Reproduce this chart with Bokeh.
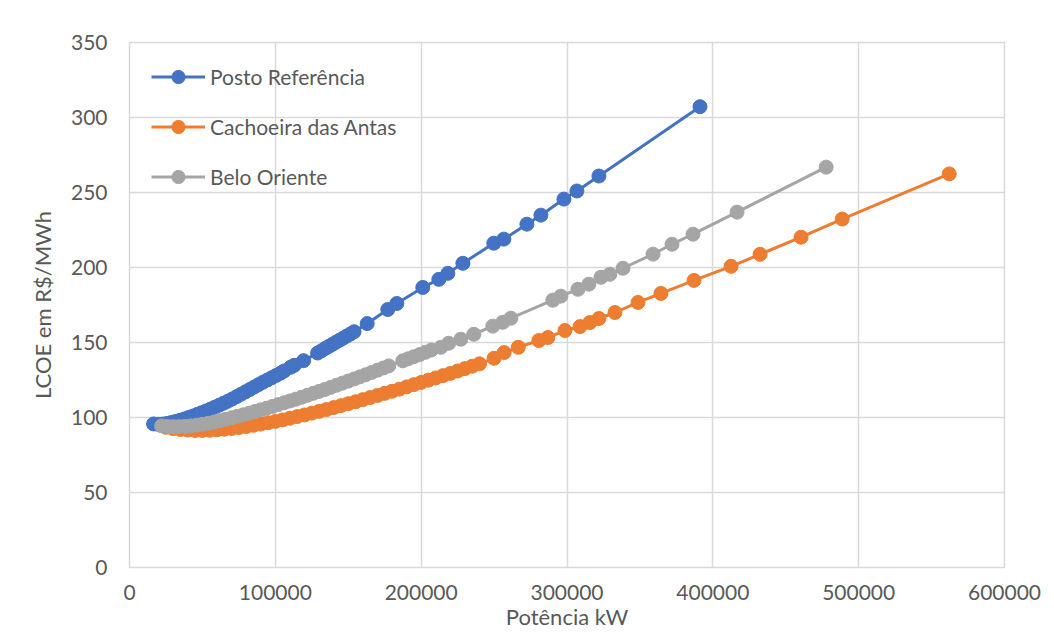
from bokeh.plotting import figure
from bokeh.models import (Range1d, FixedTicker, NumeralTickFormatter, Legend, LegendItem,
                          BoxAnnotation)
from bokeh.embed import file_html
from bokeh.resources import INLINE

# ---- data (Potência kW, LCOE R$/MWh) ----
posto_x = [16500, 19500, 22500, 25500, 28500, 31500, 34500, 37500, 40500, 43500,
           46500, 49500, 52500, 55500, 58500, 61500, 64500, 67500, 70500, 73500,
           76500, 79500, 82500, 85500, 88500, 91500, 94500, 97500, 100500, 103500,
           106000, 110500, 113000, 119400, 129000, 131500, 134000, 136500, 139000, 141500,
           144000, 146500, 149000, 151500, 154000, 163000, 177100, 183300, 201100, 212100,
           218300, 228600, 249800, 256700, 272500, 282100, 297900, 306800, 321900, 391200]
posto_y = [95.7, 95.5, 95.6, 96.0, 96.6, 97.3, 98.1, 99.0, 100.0, 101.0,
           102.1, 103.2, 104.4, 105.6, 106.9, 108.2, 109.5, 110.9, 112.4, 113.9,
           115.5, 117.1, 118.7, 120.3, 121.9, 123.5, 125.0, 126.5, 128.0, 129.5,
           131.0, 133.5, 134.8, 137.9, 143.0, 144.4, 145.9, 147.3, 148.7, 150.1,
           151.5, 152.9, 154.3, 155.7, 157.2, 162.6, 172.0, 176.0, 186.7, 192.1,
           196.1, 202.8, 216.2, 218.9, 228.9, 234.9, 245.6, 251.0, 261.0, 307.2]

cachoeira_x = [25000, 30000, 35000, 40000, 45000, 50000, 55000, 60000, 65000, 70000,
               75000, 80000, 85000, 90000, 95000, 100000, 105000, 110000, 115000, 120000,
               125000, 130000, 135000, 140000, 145000, 150000, 155000, 160000, 165000, 170000,
               175000, 180000, 185000, 190000, 195000, 200000, 205000, 210000, 215000, 220000,
               225000, 230000, 235000, 240000, 250000, 256900, 266600, 280700, 286900, 298600,
               308900, 315700, 321900, 332900, 348700, 364400, 387100, 412500, 432400, 460500,
               488700, 562100]
cachoeira_y = [93.5, 92.6, 92.0, 91.6, 91.4, 91.4, 91.5, 91.8, 92.2, 92.7,
               93.3, 94.0, 94.8, 95.6, 96.5, 97.4, 98.4, 99.5, 100.6, 101.7,
               102.9, 104.1, 105.3, 106.6, 107.9, 109.2, 110.5, 111.9, 113.3, 114.7,
               116.1, 117.5, 118.9, 120.4, 121.9, 123.4, 124.9, 126.4, 127.9, 129.4,
               131.0, 132.6, 134.2, 135.8, 139.5, 143.3, 146.8, 151.3, 153.3, 158.0,
               160.6, 163.3, 166.0, 170.0, 176.7, 182.7, 191.4, 200.8, 208.8, 220.2,
               232.3, 262.4]

belo_x = [22000, 26000, 30000, 34000, 38000, 42000, 46000, 50000, 54000, 58000,
          62000, 66000, 70000, 74000, 78000, 82000, 86000, 90000, 94000, 98000,
          102000, 106000, 110000, 114000, 118000, 122000, 126000, 130000, 134000, 138000,
          142000, 146000, 150000, 154000, 158000, 162000, 166000, 170000, 174000, 177800,
          187400, 191000, 195000, 199000, 203000, 207000, 213500, 218900, 227200, 236100,
          249100, 256000, 261500, 290300, 295800, 307500, 315000, 323300, 329400, 338400,
          359000, 372000, 386400, 416600, 477700]
belo_y = [94.4, 94.0, 93.9, 93.9, 94.1, 94.4, 94.9, 95.5, 96.2, 97.0,
          97.9, 98.8, 99.8, 100.8, 101.8, 102.9, 104.0, 105.1, 106.2, 107.4,
          108.6, 109.8, 111.0, 112.2, 113.5, 114.8, 116.1, 117.4, 118.7, 120.1,
          121.5, 122.9, 124.3, 125.7, 127.1, 128.5, 130.0, 131.5, 133.0, 134.4,
          137.8, 139.1, 140.5, 142.0, 143.5, 145.0, 146.8, 149.5, 152.2, 155.5,
          160.9, 163.5, 166.2, 178.2, 180.9, 185.5, 188.9, 193.5, 195.5, 199.5,
          208.9, 215.5, 222.2, 236.9, 266.9]

series_names = ["Posto Referência", "Cachoeira das Antas", "Belo Oriente"]
series_colors = ["#4472C4", "#ED7D31", "#A5A5A5"]
x_ticks = [0, 100000, 200000, 300000, 400000, 500000, 600000]
y_ticks = [0, 50, 100, 150, 200, 250, 300, 350]

FONT = "Lato"
TXT = "#595959"
GRID = "#D9D9D9"

p = figure(width=1054, height=636, output_backend="svg", toolbar_location=None,
           x_range=Range1d(0, 600000), y_range=Range1d(0, 350),
           min_border_left=129, min_border_right=50, min_border_top=42, min_border_bottom=69)
p.background_fill_color = "white"
p.border_fill_color = "white"
p.outline_line_color = GRID
p.outline_line_width = 1.5

p.xaxis.ticker = FixedTicker(ticks=x_ticks)
p.yaxis.ticker = FixedTicker(ticks=y_ticks)
p.xaxis.formatter = NumeralTickFormatter(format="0")
p.yaxis.formatter = NumeralTickFormatter(format="0")
for ax in (p.xaxis[0], p.yaxis[0]):
    ax.axis_line_color = None
    ax.major_tick_line_color = None
    ax.minor_tick_line_color = None
    ax.major_tick_in = 0
    ax.major_tick_out = 0
    ax.major_label_text_font = FONT
    ax.major_label_text_font_size = "21px"
    ax.major_label_text_color = TXT
    ax.axis_label_text_font = FONT
    ax.axis_label_text_font_size = "22px"
    ax.axis_label_text_color = TXT
    ax.axis_label_text_font_style = "normal"
p.xaxis.axis_label = "Potência kW"
p.yaxis.axis_label = "LCOE em R$/MWh"
p.xaxis.major_label_standoff = 17
p.yaxis.major_label_standoff = 22
p.xaxis.axis_label_standoff = 0
p.yaxis.axis_label_standoff = 12

p.xgrid.grid_line_color = GRID
p.ygrid.grid_line_color = GRID
p.xgrid.grid_line_width = 1.5
p.ygrid.grid_line_width = 1.5

items = []
for name, color, xs, ys in zip(series_names, series_colors,
                               [posto_x, cachoeira_x, belo_x],
                               [posto_y, cachoeira_y, belo_y]):
    ln = p.line(xs, ys, line_color=color, line_width=3)
    sc = p.scatter(xs, ys, size=14, fill_color=color, line_color=color, marker="circle")
    items.append(LegendItem(label=name, renderers=[ln, sc]))

legend = Legend(items=items, location=(22, 374), padding=0, margin=0,
                glyph_width=54, glyph_height=33, label_height=33, spacing=17,
                label_standoff=5, background_fill_alpha=0, border_line_color=None,
                label_text_font=FONT, label_text_font_size="21px", label_text_color=TXT)
p.add_layout(legend, "center")

# chart-area border (as in the spreadsheet chart)
border = BoxAnnotation(left=6, right=1070, top=10, bottom=660,
                       left_units="canvas", right_units="canvas",
                       top_units="canvas", bottom_units="canvas",
                       fill_alpha=0, line_color=GRID, line_width=1.5, level="overlay")
p.add_layout(border)

open("out.html", "w").write(file_html(p, INLINE))
